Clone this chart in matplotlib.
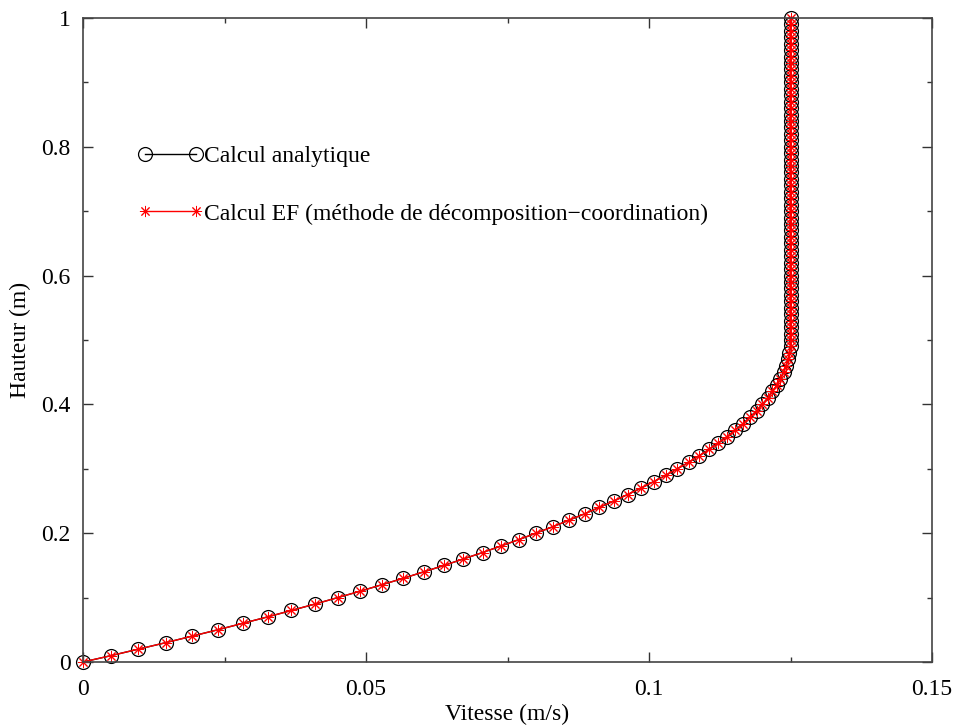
import matplotlib
matplotlib.use("Agg")
import matplotlib.pyplot as plt
from matplotlib.ticker import MultipleLocator

plt.rcParams['font.family'] = ['Liberation Serif', 'DejaVu Serif']
plt.rcParams['font.size'] = 17

# hauteur (m) et vitesse (m/s)
hauteur = [0.00, 0.01, 0.02, 0.03, 0.04, 0.05, 0.06, 0.07, 0.08, 0.09,
           0.10, 0.11, 0.12, 0.13, 0.14, 0.15, 0.16, 0.17, 0.18, 0.19,
           0.20, 0.21, 0.22, 0.23, 0.24, 0.25, 0.26, 0.27, 0.28, 0.29,
           0.30, 0.31, 0.32, 0.33, 0.34, 0.35, 0.36, 0.37, 0.38, 0.39,
           0.40, 0.41, 0.42, 0.43, 0.44, 0.45, 0.46, 0.47, 0.48, 0.49,
           0.50, 0.51, 0.52, 0.53, 0.54, 0.55, 0.56, 0.57, 0.58, 0.59,
           0.60, 0.61, 0.62, 0.63, 0.64, 0.65, 0.66, 0.67, 0.68, 0.69,
           0.70, 0.71, 0.72, 0.73, 0.74, 0.75, 0.76, 0.77, 0.78, 0.79,
           0.80, 0.81, 0.82, 0.83, 0.84, 0.85, 0.86, 0.87, 0.88, 0.89,
           0.90, 0.91, 0.92, 0.93, 0.94, 0.95, 0.96, 0.97, 0.98, 0.99,
           1.00]

v_analytique = [0.0000, 0.0050, 0.0098, 0.0146, 0.0192, 0.0238, 0.0282, 0.0326, 0.0368, 0.0410,
                0.0450, 0.0490, 0.0528, 0.0566, 0.0602, 0.0638, 0.0672, 0.0706, 0.0738, 0.0770,
                0.0800, 0.0830, 0.0858, 0.0886, 0.0912, 0.0938, 0.0962, 0.0986, 0.1008, 0.1030,
                0.1050, 0.1070, 0.1088, 0.1106, 0.1122, 0.1138, 0.1152, 0.1166, 0.1178, 0.1190,
                0.1200, 0.1210, 0.1218, 0.1226, 0.1232, 0.1238, 0.1242, 0.1246, 0.1248, 0.1250,
                0.1250, 0.1250, 0.1250, 0.1250, 0.1250, 0.1250, 0.1250, 0.1250, 0.1250, 0.1250,
                0.1250, 0.1250, 0.1250, 0.1250, 0.1250, 0.1250, 0.1250, 0.1250, 0.1250, 0.1250,
                0.1250, 0.1250, 0.1250, 0.1250, 0.1250, 0.1250, 0.1250, 0.1250, 0.1250, 0.1250,
                0.1250, 0.1250, 0.1250, 0.1250, 0.1250, 0.1250, 0.1250, 0.1250, 0.1250, 0.1250,
                0.1250, 0.1250, 0.1250, 0.1250, 0.1250, 0.1250, 0.1250, 0.1250, 0.1250, 0.1250,
                0.1250]

# le calcul EF se superpose au calcul analytique
v_ef = list(v_analytique)

fig = plt.figure(figsize=(9.54, 7.27), dpi=100)
ax = fig.add_axes([0.087, 0.0894, 0.890, 0.886])

ax.plot(v_analytique, hauteur, color='black', lw=1.0, marker='o', ms=10,
        mfc='none', mec='black', mew=0.9, clip_on=False, label='Calcul analytique')
ax.plot(v_ef, hauteur, color='red', lw=1.0, marker=(8, 2, 0), ms=8,
        mec='red', mew=0.7, clip_on=False,
        label='Calcul EF (méthode de décomposition\u2212coordination)')

ax.set_xlim(0, 0.15)
ax.set_ylim(0, 1)
ax.set_xticks([0, 0.05, 0.1, 0.15])
ax.set_xticklabels(['0', '0.05', '0.1', '0.15'])
ax.set_yticks([0, 0.2, 0.4, 0.6, 0.8, 1])
ax.set_yticklabels(['0', '0.2', '0.4', '0.6', '0.8', '1'])
ax.xaxis.set_minor_locator(MultipleLocator(0.025))
ax.yaxis.set_minor_locator(MultipleLocator(0.1))
ax.tick_params(which='both', direction='in', top=True, right=True, color='#333333', width=1.0)
ax.tick_params(which='major', length=7)
ax.tick_params(which='minor', length=3.5)
ax.tick_params(axis='x', which='major', pad=12)
ax.tick_params(axis='y', which='major', pad=9)
for s in ax.spines.values():
    s.set_color('#444444')
    s.set_linewidth(1.2)

ax.set_xlabel('Vitesse (m/s)', labelpad=3)
ax.set_ylabel('Hauteur (m)', labelpad=7)

ax.legend(loc='upper left', bbox_to_anchor=(0.0648, 0.802), frameon=False,
          numpoints=2, handlelength=2.75, handletextpad=0.05, labelspacing=1.53,
          borderpad=0, borderaxespad=0)

fig.savefig('out.png', dpi=100)
